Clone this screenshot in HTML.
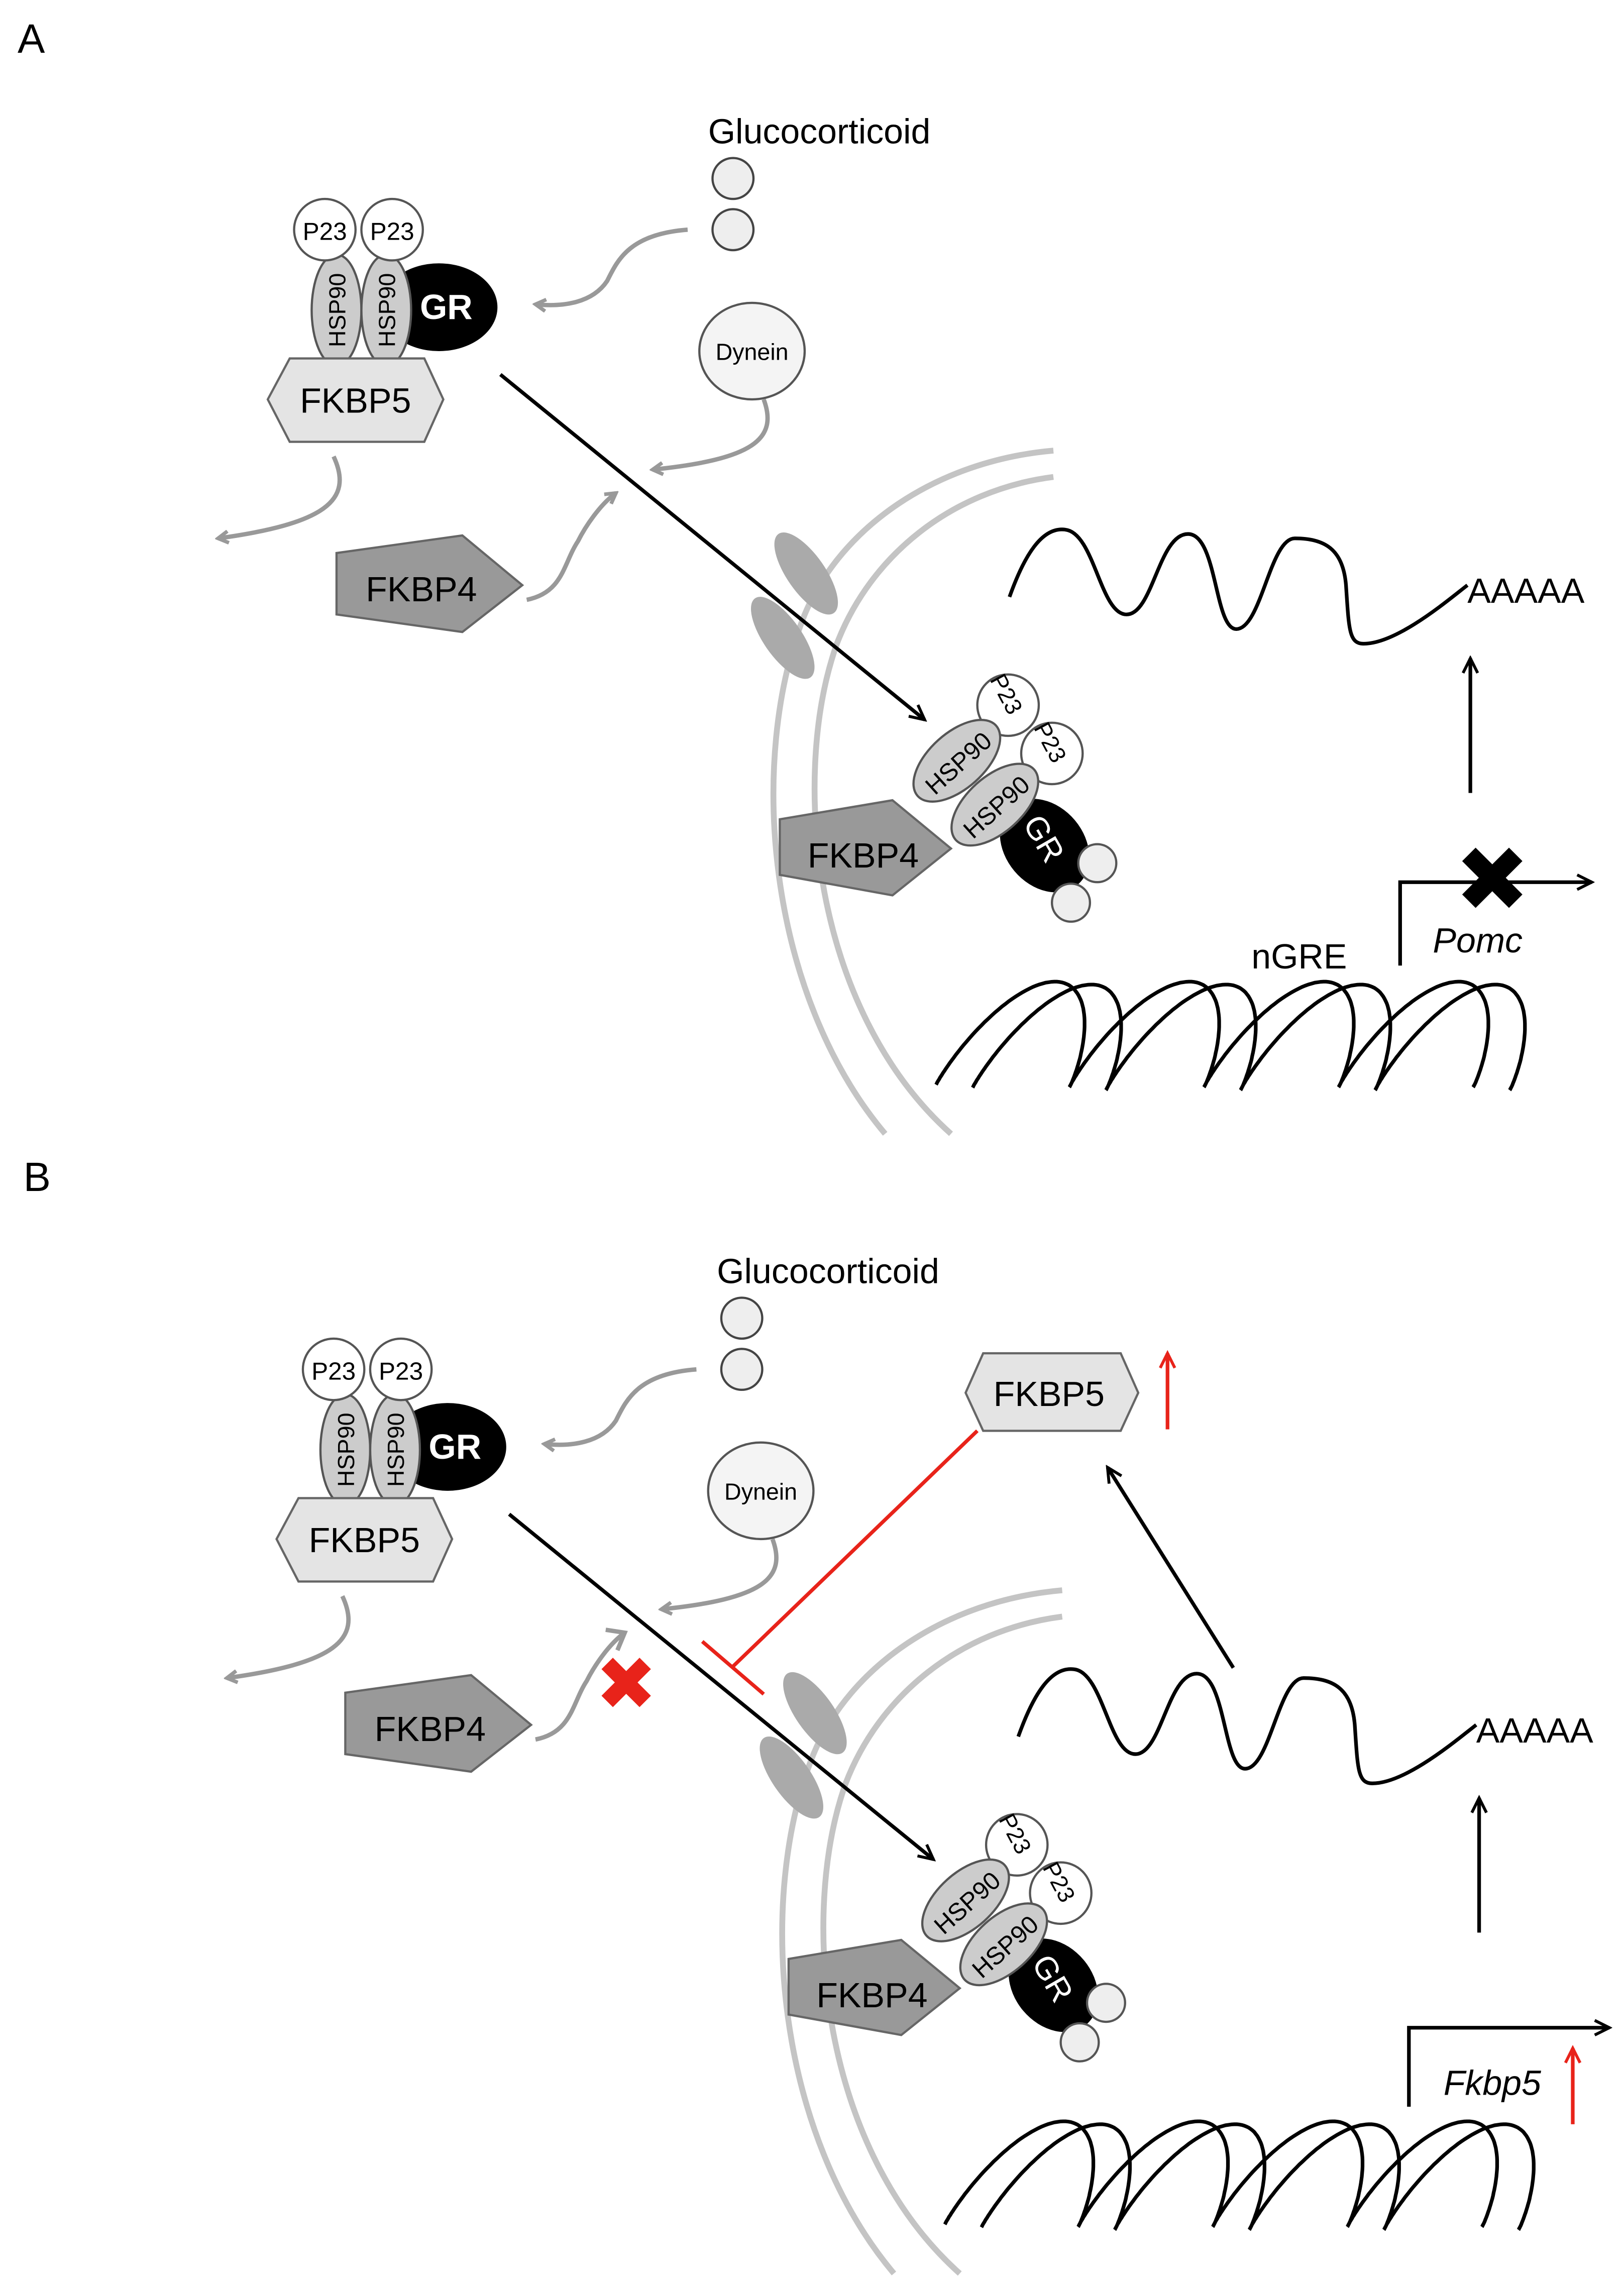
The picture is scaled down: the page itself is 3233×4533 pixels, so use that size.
<!DOCTYPE html>
<html><head><meta charset="utf-8">
<style>
html,body{margin:0;padding:0;background:#fff;}
svg{display:block;}
text{font-family:"Liberation Sans",sans-serif;}
</style></head><body>
<svg xmlns="http://www.w3.org/2000/svg" width="3233" height="4533" viewBox="0 0 1110 1556.4">
<defs>
<marker id="ga" markerWidth="10" markerHeight="10" refX="8" refY="5" orient="auto" markerUnits="userSpaceOnUse" viewBox="0 0 10 10">
<polyline points="1,1 8,5 1,9" fill="none" stroke="#999" stroke-width="2.5"/></marker>
<marker id="ba" markerWidth="14" markerHeight="14" refX="12" refY="7" orient="auto" markerUnits="userSpaceOnUse" viewBox="0 0 14 14">
<polyline points="2,2 12,7 2,12" fill="none" stroke="#000" stroke-width="2"/></marker>
<marker id="ra" markerWidth="14" markerHeight="14" refX="12" refY="7" orient="auto" markerUnits="userSpaceOnUse" viewBox="0 0 14 14">
<polyline points="2,2 12,7 2,12" fill="none" stroke="#e8231a" stroke-width="2"/></marker>
<g id="panel">
  <path d="M720,308 C640,315 575,360 550,420 C510,520 525,680 605,775" fill="none" stroke="#c4c4c4" stroke-width="4"/>
  <path d="M720,326 C650,335 595,380 572,440 C540,530 555,690 650,775" fill="none" stroke="#c4c4c4" stroke-width="4"/>
  <ellipse cx="551" cy="392" rx="13" ry="33" fill="#aaa" transform="rotate(-35 551 392)"/>
  <ellipse cx="535" cy="436" rx="13" ry="33" fill="#aaa" transform="rotate(-35 535 436)"/>
  <circle cx="501" cy="122" r="14" fill="#eee" stroke="#444" stroke-width="1.5"/>
  <circle cx="501" cy="157" r="14" fill="#eee" stroke="#444" stroke-width="1.5"/>
  <ellipse cx="300" cy="210" rx="40" ry="30" fill="#000"/>
  <ellipse cx="230" cy="212" rx="17" ry="38" fill="#ccc" stroke="#555" stroke-width="1.5"/>
  <ellipse cx="264" cy="212" rx="17" ry="38" fill="#ccc" stroke="#555" stroke-width="1.5"/>
  <circle cx="222" cy="157" r="21" fill="#fff" stroke="#555" stroke-width="1.5"/>
  <circle cx="268" cy="157" r="21" fill="#fff" stroke="#555" stroke-width="1.5"/>
  <polygon points="183,273 198,245 290,245 303,273 290,302 198,302" fill="#e4e4e4" stroke="#666" stroke-width="1.5"/>
  <ellipse cx="514" cy="240" rx="36" ry="33" fill="#f4f4f4" stroke="#555" stroke-width="1.5"/>
  <polygon points="230,378 316,366 357,400 316,432 230,420" fill="#999" stroke="#666" stroke-width="1.5"/>
  <path d="M470,157 C430,160 422,178 415,192 C405,207 385,210 366,208" fill="none" stroke="#999" stroke-width="3" marker-end="url(#ga)"/>
  <path d="M522,273 C532,300 515,314 446,321" fill="none" stroke="#999" stroke-width="3" marker-end="url(#ga)"/>
  <path d="M228,312 C242,342 222,358 149,368" fill="none" stroke="#999" stroke-width="3" marker-end="url(#ga)"/>
  <line x1="342" y1="256" x2="632" y2="492" stroke="#000" stroke-width="2.5" marker-end="url(#ba)"/>
  <polygon points="533,560 610,547 650,580 610,612 533,598" fill="#999" stroke="#666" stroke-width="1.5"/>
  <ellipse cx="714" cy="578" rx="35" ry="27" fill="#000" transform="rotate(50 714 578)"/>
  <circle cx="750" cy="590" r="13" fill="#eee" stroke="#555" stroke-width="1.5"/>
  <circle cx="732" cy="617" r="13" fill="#eee" stroke="#555" stroke-width="1.5"/>
  <circle cx="689" cy="482" r="21" fill="#fff" stroke="#555" stroke-width="1.5"/>
  <circle cx="719" cy="515" r="21" fill="#fff" stroke="#555" stroke-width="1.5"/>
  <ellipse cx="654" cy="520" rx="36" ry="19" fill="#ccc" stroke="#555" stroke-width="1.5" transform="rotate(-42 654 520)"/>
  <ellipse cx="680" cy="550" rx="36" ry="19" fill="#ccc" stroke="#555" stroke-width="1.5" transform="rotate(-42 680 550)"/>
  <path d="M690,408 C700,380 712,360 728,362 C748,364 752,420 770,420 C788,420 792,365 812,365 C832,365 830,430 845,430 C862,430 868,368 885,368 C905,368 918,375 920,400 C922,430 922,440 932,440 C955,440 990,410 1003,400" fill="none" stroke="#000" stroke-width="2.5"/>
  <line x1="1005" y1="542" x2="1005" y2="450" stroke="#000" stroke-width="2.5" marker-end="url(#ba)"/>
  <path class="hx" data-x0="657" data-yc="707" fill="none" stroke="#000" stroke-width="2.5"/>
  <path class="hx" data-x0="682" data-yc="709" fill="none" stroke="#000" stroke-width="2.5"/>
</g>
</defs>

<use href="#panel"/>
<text x="12" y="36" font-size="28">A</text>
<text x="560" y="98" font-size="24" text-anchor="middle">Glucocorticoid</text>
<text x="222" y="164" font-size="17" text-anchor="middle">P23</text>
<text x="268" y="164" font-size="17" text-anchor="middle">P23</text>
<text transform="translate(236 212) rotate(-90)" font-size="16" text-anchor="middle">HSP90</text>
<text transform="translate(270 212) rotate(-90)" font-size="16" text-anchor="middle">HSP90</text>
<text x="305" y="218" font-size="24" fill="#fff" font-weight="bold" text-anchor="middle">GR</text>
<text x="243" y="282" font-size="24" text-anchor="middle">FKBP5</text>
<text x="514" y="246" font-size="16" text-anchor="middle">Dynein</text>
<text x="288" y="411" font-size="24" text-anchor="middle">FKBP4</text>
<path d="M360,410 C385,405 385,385 395,370 C400,360 410,345 421,337" fill="none" stroke="#999" stroke-width="3" marker-end="url(#ga)"/>
<text x="590" y="593" font-size="24" text-anchor="middle">FKBP4</text>
<text transform="translate(659 526) rotate(-42)" font-size="17" text-anchor="middle">HSP90</text>
<text transform="translate(685 556) rotate(-42)" font-size="17" text-anchor="middle">HSP90</text>
<text transform="translate(683 477) rotate(62)" font-size="16" text-anchor="middle">P23</text>
<text transform="translate(713 510) rotate(62)" font-size="16" text-anchor="middle">P23</text>
<text transform="translate(707 577) rotate(60)" font-size="22" fill="#fff" text-anchor="middle">GR</text>
<text x="1003" y="412" font-size="24">AAAAA</text>
<polyline points="957,660 957,603 1088,603" fill="none" stroke="#000" stroke-width="2.5" marker-end="url(#ba)"/>
<g transform="translate(1020 600)"><line x1="-16" y1="-16" x2="16" y2="16" stroke="#000" stroke-width="13"/><line x1="16" y1="-16" x2="-16" y2="16" stroke="#000" stroke-width="13"/></g>
<text x="1010" y="651" font-size="24" font-style="italic" text-anchor="middle">Pomc</text>
<text x="888" y="662" font-size="24" text-anchor="middle">nGRE</text>

<use href="#panel" transform="translate(6 779)"/>
<text x="16" y="814" font-size="28">B</text>
<g transform="translate(6 779)">
<text x="560" y="98" font-size="24" text-anchor="middle">Glucocorticoid</text>
<text x="222" y="164" font-size="17" text-anchor="middle">P23</text>
<text x="268" y="164" font-size="17" text-anchor="middle">P23</text>
<text transform="translate(236 212) rotate(-90)" font-size="16" text-anchor="middle">HSP90</text>
<text transform="translate(270 212) rotate(-90)" font-size="16" text-anchor="middle">HSP90</text>
<text x="305" y="218" font-size="24" fill="#fff" font-weight="bold" text-anchor="middle">GR</text>
<text x="243" y="282" font-size="24" text-anchor="middle">FKBP5</text>
<text x="514" y="246" font-size="16" text-anchor="middle">Dynein</text>
<text x="288" y="411" font-size="24" text-anchor="middle">FKBP4</text>
<path d="M360,410 C385,405 385,385 395,370 C400,360 410,345 421,337" fill="none" stroke="#999" stroke-width="3"/>
<polyline points="408,335 421,337 416,349" fill="none" stroke="#999" stroke-width="3"/>
<text x="590" y="593" font-size="24" text-anchor="middle">FKBP4</text>
<text transform="translate(659 526) rotate(-42)" font-size="17" text-anchor="middle">HSP90</text>
<text transform="translate(685 556) rotate(-42)" font-size="17" text-anchor="middle">HSP90</text>
<text transform="translate(683 477) rotate(62)" font-size="16" text-anchor="middle">P23</text>
<text transform="translate(713 510) rotate(62)" font-size="16" text-anchor="middle">P23</text>
<text transform="translate(707 577) rotate(60)" font-size="22" fill="#fff" text-anchor="middle">GR</text>
<text x="1003" y="412" font-size="24">AAAAA</text>
</g>
<g transform="translate(428 1150)"><line x1="-13" y1="-13" x2="13" y2="13" stroke="#e8231a" stroke-width="11"/><line x1="13" y1="-13" x2="-13" y2="13" stroke="#e8231a" stroke-width="11"/></g>
<polygon points="660,952 672,925 766,925 778,952 766,978 672,978" fill="#e4e4e4" stroke="#666" stroke-width="1.5"/>
<text x="717" y="961" font-size="24" text-anchor="middle">FKBP5</text>
<line x1="798" y1="977" x2="798" y2="925" stroke="#e8231a" stroke-width="2.5" marker-end="url(#ra)"/>
<line x1="668" y1="978" x2="500" y2="1140" stroke="#e8231a" stroke-width="2.5"/>
<line x1="480" y1="1122" x2="522" y2="1158" stroke="#e8231a" stroke-width="2.5"/>
<line x1="843" y1="1140" x2="757" y2="1003" stroke="#000" stroke-width="2.5" marker-end="url(#ba)"/>
<polyline points="963,1440 963,1386 1100,1386" fill="none" stroke="#000" stroke-width="2.5" marker-end="url(#ba)"/>
<text x="1020" y="1432" font-size="24" font-style="italic" text-anchor="middle">Fkbp5</text>
<line x1="1075" y1="1452" x2="1075" y2="1400" stroke="#e8231a" stroke-width="2.5" marker-end="url(#ra)"/>
</svg>
<script>
document.querySelectorAll('path.hx').forEach(function(p){
  var x0=+p.getAttribute('data-x0'), yc=+p.getAttribute('data-yc');
  var P=92, A=36, d='';
  for(var i=0;i<=400;i++){
    var t=i/400*4*2*Math.PI+0.3;
    var y=yc+A*Math.cos(t);
    var x=x0+P*t/(2*Math.PI)-15*Math.sin(t)+0.5*(yc-y);
    d+=(i?'L':'M')+x.toFixed(1)+','+y.toFixed(1);
  }
  p.setAttribute('d',d);
});
</script>
</body></html>
